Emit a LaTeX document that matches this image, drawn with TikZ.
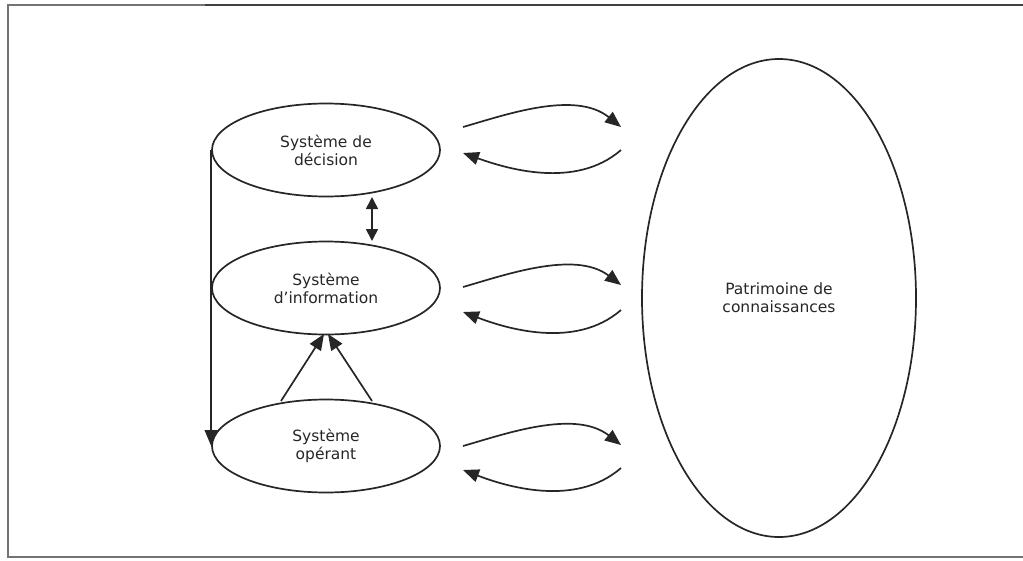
\documentclass[tikz,border=0pt]{standalone}
\usepackage{fontspec}
\setmainfont{DejaVu Sans}
\usetikzlibrary{shapes.geometric,arrows.meta}
\begin{document}
\begin{tikzpicture}[x=1pt,y=-1pt,
  line width=1.7pt, draw=black!85,
  sysbox/.style={draw, ellipse, inner sep=0pt, minimum width=228pt, minimum height=93pt,
    align=center, font=\fontsize{15.5pt}{18pt}\selectfont, text=black!85},
  bigbox/.style={draw, ellipse, inner sep=0pt, minimum width=274pt, minimum height=478pt,
    align=center, font=\fontsize{15.5pt}{18pt}\selectfont, text=black!85},
  arr/.style={-{Triangle[length=16pt,width=13pt]}},
  darr/.style={{Triangle[length=12pt,width=12pt]}-{Triangle[length=12pt,width=12pt]}},
  framel/.style={draw=black!55, line width=1.2pt}
]
\useasboundingbox (0,0) rectangle (1023,560);
% frame
\draw[framel] (1023,5) -- (8,5) -- (8,557) -- (1023,557);
\draw[draw=black!75, line width=1.8pt] (205,5) -- (1023,5);

% nodes
\node[sysbox] (dec) at (326,150) {Système de\\décision};
\node[sysbox] (inf) at (326,288) {Système\\d’information};
\node[sysbox] (ope) at (326,446) {Système\\opérant};
\node[bigbox] (pat) at (779,298) {Patrimoine de\\connaissances};

% vertical feedback line
\draw[arr] (dec.west) -- (ope.west);

% double arrow decision <-> information
\coordinate (d1) at (372,197);
\coordinate (d2) at (372,241);
\draw[darr] (d1) -- (d2);

% two arrows from operant to information
\coordinate (o1) at (281,401);
\coordinate (o2) at (372,401);
\coordinate (i1) at (324,334);
\coordinate (i2) at (328,334);
\draw[arr] (o1) -- (i1);
\draw[arr] (o2) -- (i2);

% curvy exchange arrows
\foreach \n/\ya/\yb/\yc/\yd in {a/127/127/150/153, b/287/285/310/312, c/446/445/468/470}{
  \coordinate (\n s) at (463,\ya);
  \coordinate (\n t) at (621,\yb);
  \coordinate (\n r) at (621,\yc);
  \coordinate (\n q) at (463,\yd);
  \draw[arr] (\n s) .. controls (505,\ya-12) and (575,\ya-37) .. (\n t);
  \draw[arr] (\n r) .. controls (575,\yc+40) and (505,\yc+18) .. (\n q);
}
\end{tikzpicture}
\end{document}
